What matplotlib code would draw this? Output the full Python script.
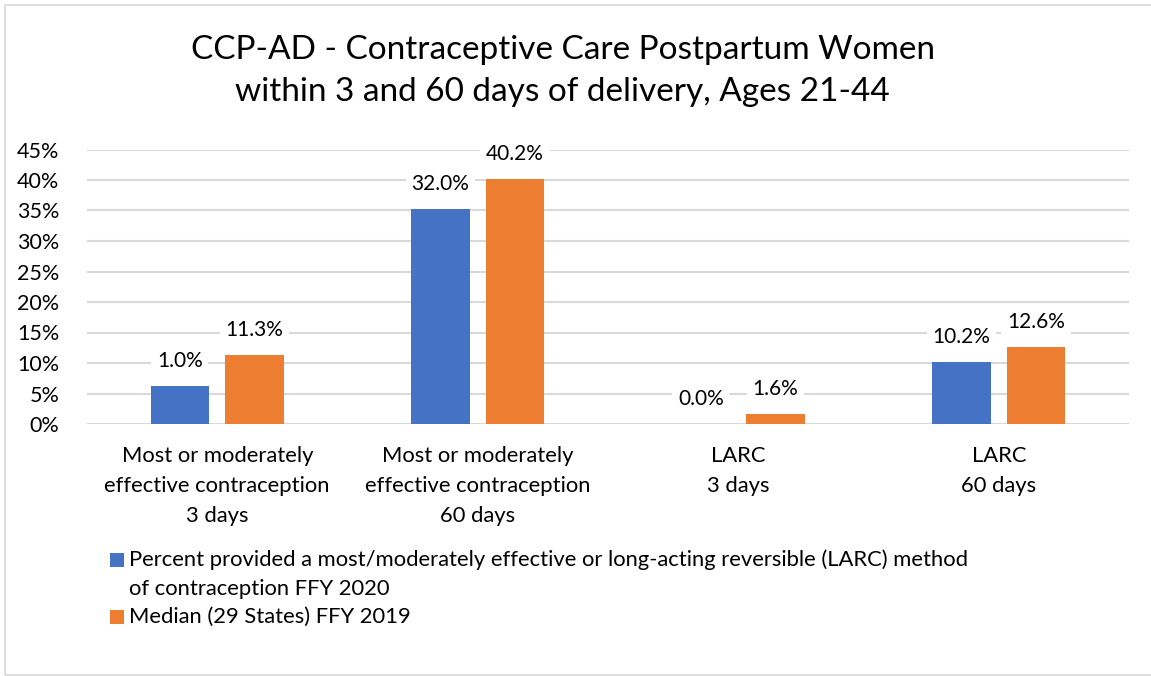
import matplotlib
matplotlib.use("Agg")
import matplotlib.pyplot as plt
from matplotlib.patches import Rectangle

# data
categories = [
    "Most or moderately\neffective contraception\n3 days",
    "Most or moderately\neffective contraception\n60 days",
    "LARC\n3 days",
    "LARC\n60 days",
]
ffy2020_bars = [6.2, 35.2, 0.0, 10.2]          # bar heights as drawn
ffy2020_labels = ["1.0%", "32.0%", "0.0%", "10.2%"]  # labels as printed
median2019 = [11.3, 40.2, 1.6, 12.6]
series_names = [
    ["Percent provided a most/moderately effective or long-acting reversible (LARC) method",
     "of contraception FFY 2020"],
    ["Median (29 States) FFY 2019"],
]
yticks = [0, 5, 10, 15, 20, 25, 30, 35, 40, 45]

BLUE = "#4472C4"
ORANGE = "#ED7D31"
GRID = "#D9D9D9"
TXT = "#000000"

plt.rcParams["font.family"] = ["Lato", "DejaVu Sans"]

W, H = 1151, 676
fig = plt.figure(figsize=(W / 100, H / 100), dpi=100)
# light frame round the chart (right edge falls outside the image)
fig.patches.append(Rectangle((5 / W, 1 / H), 1.0, 670 / H, transform=fig.transFigure,
                             fill=False, edgecolor=GRID, linewidth=1.2))

ax = fig.add_axes([87 / W, (H - 424) / H, 1042 / W, 274.5 / H])

x = list(range(len(categories)))
bw = 0.223
off = 0.143
b1 = ax.bar([i - off for i in x], ffy2020_bars, bw, color=BLUE, zorder=2)
b2 = ax.bar([i + off for i in x], median2019, bw, color=ORANGE, zorder=2)

lbl_box = dict(facecolor="white", edgecolor="none", pad=4)
for rect, txt in zip(b1, ffy2020_labels):
    ax.annotate(txt, (rect.get_x() + rect.get_width() / 2, rect.get_height()),
                xytext=(0, 25), textcoords="offset pixels", ha="center", va="center",
                fontsize=15, color=TXT, bbox=lbl_box, zorder=3)
for rect, v in zip(b2, median2019):
    ax.annotate(f"{v:.1f}%", (rect.get_x() + rect.get_width() / 2, rect.get_height()),
                xytext=(0, 25), textcoords="offset pixels", ha="center", va="center",
                fontsize=15, color=TXT, bbox=lbl_box, zorder=3)

ax.set_xlim(-0.5, len(categories) - 0.5)
ax.set_ylim(0, 45)
ax.set_yticks(yticks)
ax.set_yticklabels([f"{t}%" for t in yticks], fontsize=15.5, color=TXT)
ax.set_xticks(x)
ax.set_xticklabels(categories, fontsize=15.8, color=TXT, linespacing=1.62)
ax.tick_params(axis="both", length=0)
ax.tick_params(axis="y", pad=20)
ax.tick_params(axis="x", pad=16)
ax.grid(axis="y", color=GRID, linewidth=1.5, zorder=0)
ax.set_axisbelow(True)
for s in ax.spines.values():
    s.set_visible(False)

# legend drawn by hand so the swatch sits on the first text line
leg_rows = [(560, 589), (617,)]
for colour, lines, ys in zip([BLUE, ORANGE], series_names, leg_rows):
    fig.patches.append(Rectangle((110 / W, 1 - (ys[0] + 7) / H), 14 / W, 14 / H,
                                 transform=fig.transFigure, facecolor=colour, edgecolor="none"))
    for line, yy in zip(lines, ys):
        fig.text(129 / W, 1 - yy / H, line, ha="left", va="center", fontsize=15.8, color=TXT)

fig.text(0.489, 1 - 71 / H, "CCP-AD - Contraceptive Care Postpartum Women\nwithin 3 and 60 days of delivery, Ages 21-44",
         ha="center", va="center", fontsize=24, color=TXT, linespacing=1.5)

fig.savefig("out.png", dpi=100)
